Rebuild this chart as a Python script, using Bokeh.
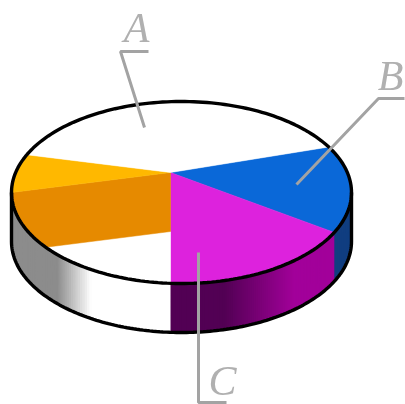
import numpy as np
from bokeh.plotting import figure
from bokeh.embed import file_html
from bokeh.resources import INLINE
from bokeh.core.properties import value

# Data: slices clockwise on screen, beginning at the B slice
slices = ["B", "C", "front", "orange", "yellow", "A"]
sweeps = [56.0, 67.7, 49.3, 37.0, 24.5, 125.5]
labels = ["A", "B", "C"]

# Geometry, in page pixels
CX, CY, RX, RY, DEPTH = 181.0, 192.0, 170.0, 91.0, 49.0
APEX = (170.0, 172.0)
LOWER = (170.0, 231.0)
START = -30.0
W, H = 405, 404

colors = dict(B="#0a68d8", C="#dd22dd", front="#ffffff", orange="#e68a00",
              yellow="#ffb800", A="#ffffff")
edges = START + np.concatenate([[0.0], np.cumsum(sweeps)])
span = {n: (edges[i], edges[i + 1]) for i, n in enumerate(slices)}


def rim(a, b, dy=0.0, n=90):
    t = np.radians(np.linspace(a, b, n))
    return CX + RX * np.cos(t), CY + dy + RY * np.sin(t)


def mix(c1, c2, f):
    f = min(max(f, 0.0), 1.0)
    c = [round(c1[i] + (c2[i] - c1[i]) * f) for i in range(3)]
    return "#%02x%02x%02x" % tuple(c)


p = figure(width=W, height=H, x_range=(0, W), y_range=(H, 0),
           output_backend="svg", toolbar_location=None, min_border=0,
           background_fill_color="white", border_fill_color="white",
           outline_line_color=None)
p.axis.visible = False
p.grid.visible = False
p.styles = {"position": "fixed", "left": "0", "top": "0"}


def wall(a, b, shade):
    # Each strip runs on to the wall's far end and the next one paints over it,
    # so no seams show between neighbouring shades.
    xs, ys, cs = [], [], []
    for u in np.linspace(a, b, 90)[:-1]:
        xa, ya = rim(u, b, 0, 60)
        xb, yb = rim(b, u, DEPTH, 60)
        xs.append(np.concatenate([xa, xb]).tolist())
        ys.append(np.concatenate([ya, yb]).tolist())
        cs.append(shade(xa[0]))
    p.patches(xs, ys, fill_color=cs, line_color=None)


GREY, WHITE = (140, 140, 140), (255, 255, 255)
DARKP, PURP = (82, 0, 84), (162, 0, 154)
DARKB = "#123f80"

wall(0, span["C"][0], lambda x: DARKB)
wall(span["C"][0], span["C"][1], lambda x: mix(DARKP, PURP, (x - 225) / 70))
wall(span["C"][1], 180, lambda x: mix(GREY, WHITE, (x - 58) / 34))

# Top face
for name in slices:
    a, b = span[name]
    x, y = rim(a, b)
    if name == "orange":
        px, py = [APEX[0], LOWER[0]], [APEX[1], LOWER[1]]
    elif name == "front":
        px, py = [LOWER[0]], [LOWER[1]]
    else:
        px, py = [APEX[0]], [APEX[1]]
    p.patch(np.concatenate([x, px]), np.concatenate([y, py]),
            fill_color=colors[name], line_color=colors[name], line_width=0.5)

# Outlines
x, y = rim(0, 360, n=240)
p.line(x, y, line_color="black", line_width=3.4)
x, y = rim(0, 180, DEPTH, 160)
x = np.concatenate([[CX + RX], x, [CX - RX]])
y = np.concatenate([[CY], y, [CY]])
p.line(x, y, line_color="black", line_width=3.4)

# Leaders and hand-lettered labels
grey = "#a3a3a3"
p.line([144, 120, 148], [127, 51, 51], line_color=grey, line_width=3)
p.line([296, 378, 404], [184, 98, 98], line_color=grey, line_width=3)
p.line([198, 198, 226], [252, 402, 402], line_color=grey, line_width=3)
p.text([136, 390, 222], [27, 75, 380], text=labels,
       text_font=value("Liberation Serif"), text_font_style="italic",
       text_font_size="42px", text_color="#b0b0b0",
       text_align="center", text_baseline="middle")

open("out.html", "w").write(file_html(p, INLINE))
